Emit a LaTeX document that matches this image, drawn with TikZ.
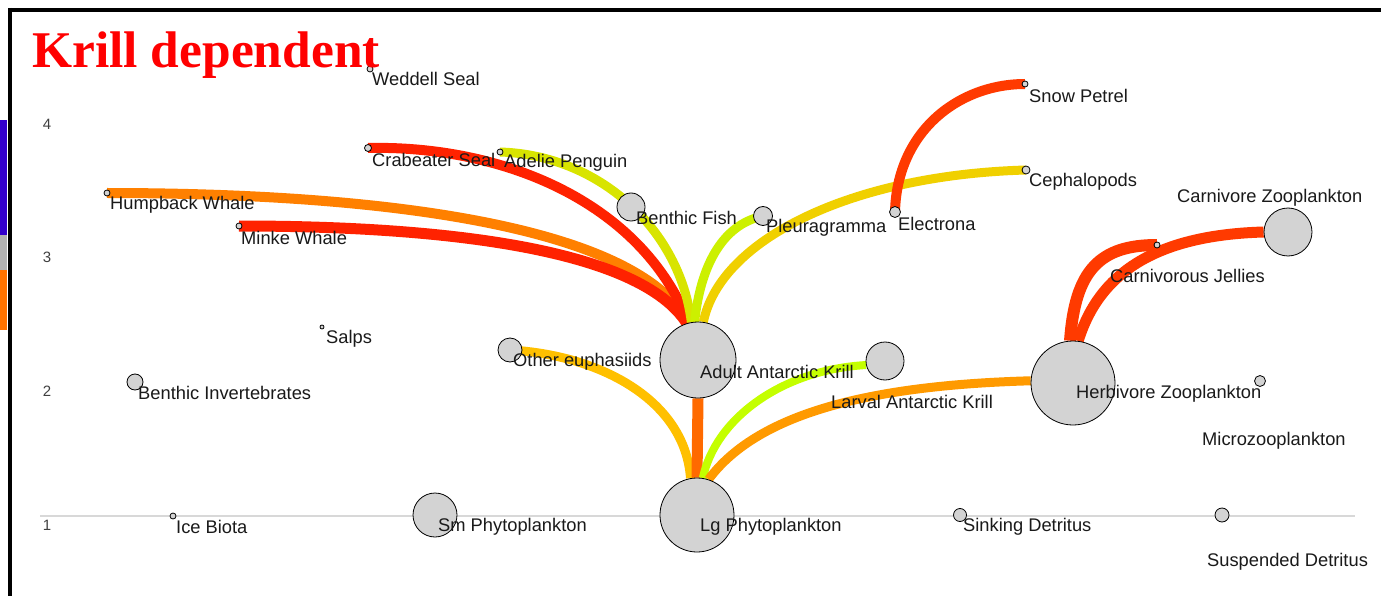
\documentclass[tikz,border=0pt]{standalone}
\usepackage{fontspec}
\setmainfont{Liberation Sans}
\newfontfamily\titlefont{Liberation Serif}
\pgfdeclarelayer{background}
\pgfsetlayers{background,main}
\begin{document}
\begin{tikzpicture}[x=1pt,y=-1pt,
  sp/.style={circle,draw=black,line width=0.8pt,fill=nodegrey,inner sep=0pt},
  lab/.style={anchor=west,inner sep=0pt,text=labtext,font=\fontsize{18.3}{20}\selectfont},
  axl/.style={inner sep=0pt,text=axtext,font=\fontsize{15}{16}\selectfont},
  flow/.style={line cap=butt}]
\definecolor{nodegrey}{HTML}{D3D3D3}
\definecolor{labtext}{HTML}{1A1A1A}
\definecolor{axtext}{HTML}{404040}
\definecolor{ered}{HTML}{FF2200}
\definecolor{ered2}{HTML}{FF3A00}
\definecolor{eorange}{HTML}{FF8000}
\definecolor{eorange2}{HTML}{FF9A00}
\definecolor{evert}{HTML}{FF6A00}
\definecolor{eyg}{HTML}{D8E400}
\definecolor{eyg2}{HTML}{CCF000}
\definecolor{eyg3}{HTML}{C4FF00}
\definecolor{eyel}{HTML}{F0D000}
\definecolor{eamber}{HTML}{FFC000}
\definecolor{axline}{HTML}{D8D8D8}
\useasboundingbox (0,0) rectangle (1381,596);
% nodes
\node[sp,minimum size=6pt] (ws) at (370,69) {};
\node[sp,minimum size=7pt] (cs) at (368,148) {};
\node[sp,minimum size=6pt] (ap) at (500,152) {};
\node[sp,minimum size=6pt] (hw) at (107,193) {};
\node[sp,minimum size=6pt] (mw) at (239,226) {};
\node[sp,minimum size=28pt] (bf) at (631,207) {};
\node[sp,minimum size=19pt] (pl) at (763,216) {};
\node[sp,minimum size=11pt] (el) at (895,212) {};
\node[sp,minimum size=6pt] (sp) at (1025,84) {};
\node[sp,minimum size=8pt] (ce) at (1026,170) {};
\node[sp,minimum size=48pt] (cz) at (1288,232) {};
\node[sp,minimum size=6pt] (cj) at (1157,245) {};
\node[sp,minimum size=4pt] (sa) at (322,327) {};
\node[sp,minimum size=24pt] (oe) at (510,350) {};
\node[sp,minimum size=76pt] (ak) at (698,360) {};
\node[sp,minimum size=38pt] (lk) at (885,361) {};
\node[sp,minimum size=84pt] (hz) at (1073,383) {};
\node[sp,minimum size=11pt] (mz) at (1260,381) {};
\node[sp,minimum size=16pt] (bi) at (135,382) {};
\node[sp,minimum size=6pt] (ib) at (173,516) {};
\node[sp,minimum size=44pt] (smp) at (435,515) {};
\node[sp,minimum size=74pt] (lgp) at (697,515) {};
\node[sp,minimum size=13pt] (sd) at (960,515) {};
\node[sp,minimum size=14pt] (su) at (1222,515) {};
% labels
\node[lab] (wsl) at (372,79) {Weddell Seal};
\node[lab] (csl) at (372,160) {Crabeater Seal};
\node[lab] (apl) at (504,163) {Adelie Penguin};
\node[lab] (hwl) at (110,205) {Humpback Whale};
\node[lab] (mwl) at (241,238) {Minke Whale};
\node[lab] (bfl) at (636,218) {Benthic Fish};
\node[lab] (pll) at (766,228) {Pleuragramma};
\node[lab] (ell) at (898,224) {Electrona};
\node[lab] (spl) at (1029,96) {Snow Petrel};
\node[lab] (cel) at (1029,182) {Cephalopods};
\node[lab] (czl) at (1177,198) {Carnivore Zooplankton};
\node[lab] (cjl) at (1110,276) {Carnivorous Jellies};
\node[lab] (sal) at (326,339) {Salps};
\node[lab] (oel) at (513,362) {Other euphasiids};
\node[lab] (akl) at (700,372) {Adult Antarctic Krill};
\node[lab] (lkl) at (831,402) {Larval Antarctic Krill};
\node[lab] (hzl) at (1076,394) {Herbivore Zooplankton};
\node[lab] (mzl) at (1202,441) {Microzooplankton};
\node[lab] (bil) at (138,393) {Benthic Invertebrates};
\node[lab] (ibl) at (176,527) {Ice Biota};
\node[lab] (smpl) at (438,527) {Sm Phytoplankton};
\node[lab] (lgpl) at (700,527) {Lg Phytoplankton};
\node[lab] (sdl) at (963,527) {Sinking Detritus};
\node[lab] (sul) at (1207,562) {Suspended Detritus};
% title
\node[anchor=base west,inner sep=0pt,text=red,font=\titlefont\bfseries\fontsize{51.5}{56}\selectfont] (title) at (32,68) {Krill dependent};
% axis labels
\node[axl] (t4) at (47,124) {4};
\node[axl] (t3) at (47,257) {3};
\node[axl] (t2) at (47,391) {2};
\node[axl] (t1) at (47,525) {1};
\begin{pgfonlayer}{background}
\fill[white] (0,0) rectangle (1381,596);
% fragment of neighbouring picture at the far left
\fill[blue!60!violet] (0,120) rectangle (7,235);
\fill[gray!60] (0,235) rectangle (7,270);
\fill[orange!90!red] (0,270) rectangle (7,330);
% frame
\draw[black,line width=3.6pt] (8,10) -- (1381,10);
\draw[black,line width=3.6pt] (10,8) -- (10,596);
% axis
\draw[axline,line width=1.5pt] (40,516) -- (1355,516);
% flows
\draw[flow,eorange,line width=10pt] (hw.center) .. controls (400,193) and (640,230) .. (ak.105);
\draw[flow,ered,line width=11pt] (mw.center) .. controls (450,226) and (640,250) .. (ak.107);
\draw[flow,ered,line width=10pt] (cs.center) .. controls (500,145) and (640,200) .. (ak.104);
\draw[flow,eyg,line width=9pt] (ap.center) .. controls (600,155) and (680,230) .. (ak.100);
\draw[flow,eyg2,line width=9pt] (pl.center) .. controls (720,225) and (700,270) .. (ak.95);
\draw[flow,eyel,line width=9pt] (ce.center) .. controls (850,175) and (720,240) .. (ak.82);
\draw[flow,ered2,line width=10pt] (el.center) .. controls (897,130) and (960,84) .. (sp.center);
\draw[flow,eamber,line width=9pt] (oe.center) .. controls (600,355) and (685,400) .. (lgp.100);
\draw[flow,evert,line width=11pt] (ak.south) -- (lgp.north);
\draw[flow,eyg3,line width=8pt] (lk.192) .. controls (780,370) and (715,420) .. (lgp.81);
\draw[flow,eorange2,line width=9pt] (hz.177) .. controls (880,385) and (760,410) .. (lgp.72);
\draw[flow,ered2,line width=12pt] (hz.94) .. controls (1075,270) and (1100,245) .. (cj.center);
\draw[flow,ered2,line width=11pt] (hz.83) .. controls (1100,270) and (1160,235) .. (cz.180);
\end{pgfonlayer}
\end{tikzpicture}
\end{document}
